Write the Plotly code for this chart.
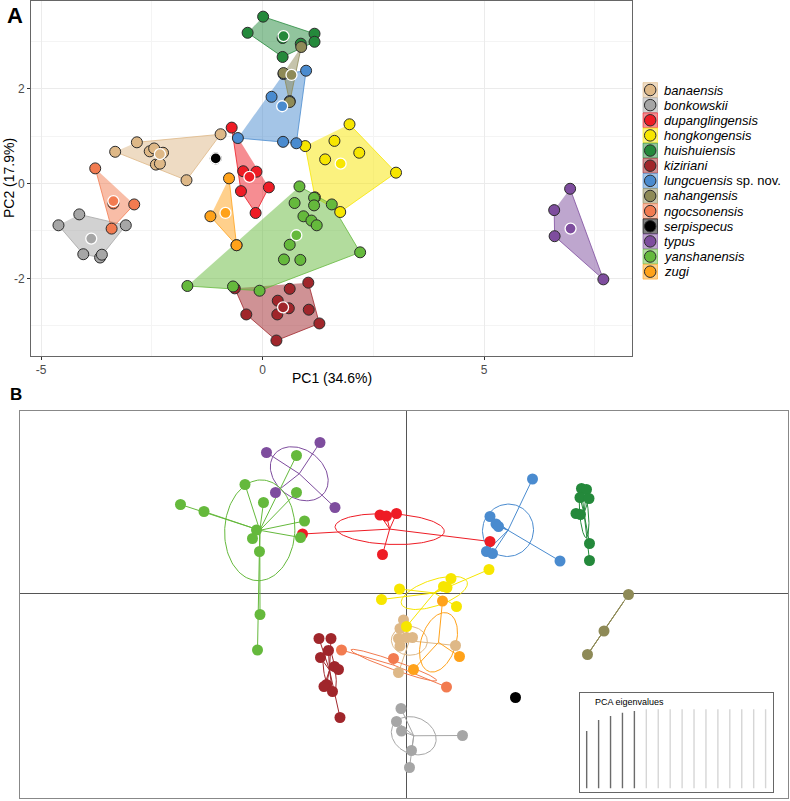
import numpy as np
import plotly.graph_objects as go

species = ["banaensis", "bonkowskii", "dupanglingensis", "hongkongensis", "huishuiensis",
           "kiziriani", "lungcuensis", "nahangensis", "ngocsonensis", "serpispecus",
           "typus", "yanshanensis", "zugi"]
legend_text = ["<i>banaensis</i>", "<i>bonkowskii</i>", "<i>dupanglingensis</i>", "<i>hongkongensis</i>",
               "<i>huishuiensis</i>", "<i>kiziriani</i>", "<i>lungcuensis</i> sp. nov.", "<i>nahangensis</i>",
               "<i>ngocsonensis</i>", "<i>serpispecus</i>", "<i>typus</i>", "<i>yanshanensis</i>", "<i>zugi</i>"]
colors = ["#DEB887", "#A6A6A6", "#EE1C25", "#F7E600", "#24893B", "#A0262B", "#4A8BCF",
          "#8E8A57", "#F27B50", "#000000", "#7E4D9E", "#65B93C", "#FFA21A"]

# panel A - PCA scores (PC1, PC2)
pca_x = {
    "banaensis": [-3.33, -2.84, -2.55, -2.45, -2.25, -2.41, -2.32, -0.95, -1.72],
    "bonkowskii": [-4.14, -4.61, -3.09, -4.05, -3.67, -3.63],
    "dupanglingensis": [-0.70, -0.44, -0.14, -0.49, 0.14, -0.16],
    "hongkongensis": [0.96, 1.96, 1.62, 2.18, 1.41, 3.01, 1.75, 1.18],
    "huishuiensis": [0.01, -0.34, 1.17, 1.17, 0.86, 0.45, 0.45],
    "kiziriani": [1.03, 0.61, 0.34, 0.59, 1.04, -0.37, 0.33, 1.28, 0.31, -0.63],
    "lungcuensis": [0.98, 0.47, 0.20, -0.56, 0.46, 0.76, 0.61],
    "nahangensis": [0.87, 0.47, 0.61],
    "ngocsonensis": [-3.78, -3.37, -2.90, -3.41],
    "serpispecus": [-1.06],
    "typus": [6.94, 6.58, 6.59, 7.69],
    "yanshanensis": [0.83, 0.72, 1.16, 1.16, 1.56, 0.92, 1.10, 1.22, 0.61, 0.48, 0.85, 2.20,
                     -0.59, -1.70, -0.67, -0.07],
    "zugi": [-0.76, -1.18, -0.59],
}
pca_y = {
    "banaensis": [0.67, 0.87, 0.68, 0.74, 0.65, 0.40, 0.42, 1.04, 0.07],
    "bonkowskii": [-0.65, -0.88, -0.88, -1.49, -1.56, -1.50],
    "dupanglingensis": [1.18, 0.26, 0.25, -0.16, -0.08, -0.62],
    "hongkongensis": [0.79, 1.25, 0.90, 0.65, 0.51, 0.23, -0.60, -0.29],
    "huishuiensis": [3.52, 3.18, 3.16, 2.99, 2.95, 2.67, 3.07],
    "kiziriani": [-2.09, -2.22, -2.47, -2.63, -2.66, -2.76, -2.76, -2.95, -3.31, -2.21],
    "lungcuensis": [2.38, 2.31, 1.83, 0.96, 0.88, 0.85, 1.74],
    "nahangensis": [2.88, 2.33, 1.72],
    "ngocsonensis": [0.32, -0.42, -0.44, -0.95],
    "serpispecus": [0.53],
    "typus": [-0.11, -0.56, -1.11, -2.02],
    "yanshanensis": [-0.06, -0.41, -0.30, -0.46, -0.44, -0.69, -0.78, -0.88, -1.29, -1.60, -1.61,
                     -1.45, -1.30, -2.16, -2.17, -2.26],
    "zugi": [0.11, -0.69, -1.30],
}
cent_x = [-2.32, -3.87, -0.30, 1.76, 0.47, 0.46, 0.44, 0.65, -3.37, -1.06, 6.95, 0.76, -0.84]
cent_y = [0.62, -1.16, 0.14, 0.42, 3.11, -2.61, 1.63, 2.29, -0.37, 0.53, -0.95, -1.09, -0.62]

# panel B - s.class scores
cls_x = {
    "banaensis": [-0.05, -0.12, -0.15, 0.01, 0.13, -0.12, 0.99, -0.15],
    "bonkowskii": [-0.10, -0.19, -0.09, 0.11, 0.07, 1.13],
    "dupanglingensis": [-0.52, -0.39, -0.19, -0.47, -2.07, 1.68],
    "hongkongensis": [1.66, 0.90, 0.75, 0.82, -0.13, 1.01, 0.01, -0.49],
    "huishuiensis": [3.51, 3.61, 3.48, 3.66, 3.40, 3.49, 3.67, 3.67],
    "kiziriani": [-1.74, -1.50, -1.55, -1.71, -1.43, -1.35, -1.59, -1.64, -1.47, -1.32],
    "lungcuensis": [2.53, 1.68, 1.80, 1.85, 1.61, 1.73, 3.08],
    "nahangensis": [4.45, 3.96, 3.63],
    "ngocsonensis": [-1.29, -0.25, 0.81],
    "serpispecus": [2.19],
    "typus": [-2.79, -1.72, -2.61, -1.42],
    "yanshanensis": [-4.51, -4.04, -3.22, -2.19, -2.85, -2.19, -2.03, -2.99, -3.07, -2.11, -2.93,
                     -2.92, -2.97],
    "zugi": [0.73, 1.07, 0.15],
}
cls_y = {
    "banaensis": [-0.54, -0.71, -0.91, -0.89, -0.89, -1.06, -1.05, -1.59],
    "bonkowskii": [-2.31, -2.57, -2.76, -3.15, -3.49, -2.85],
    "dupanglingensis": [1.56, 1.54, 1.59, 0.77, 1.18, 1.03],
    "hongkongensis": [0.47, 0.29, 0.13, 0.11, 0.08, -0.27, -0.67, -0.13],
    "huishuiensis": [2.09, 2.07, 1.91, 1.89, 1.59, 1.57, 0.99, 0.65],
    "kiziriani": [-0.91, -0.91, -1.15, -1.29, -1.47, -1.53, -1.83, -1.87, -1.97, -2.49],
    "lungcuensis": [2.28, 1.53, 1.38, 1.33, 0.83, 0.79, 0.64],
    "nahangensis": [-0.03, -0.76, -1.23],
    "ngocsonensis": [-1.14, -1.31, -1.88],
    "serpispecus": [-2.09],
    "typus": [2.81, 3.01, 2.01, 1.71],
    "yanshanensis": [1.77, 1.63, 2.17, 2.75, 1.81, 2.01, 1.44, 1.26, 1.09, 1.11, 0.83, -0.43, -1.14],
    "zugi": [-0.16, -1.27, -1.53],
}
eigenvalues = [57.3, 68.3, 72.3, 75.6, 77.3, 79, 79, 79, 79, 79, 79, 79, 79, 79, 79, 79]
n_kept = 5

W, H = 790, 801
FONT = "Liberation Sans, Arial, sans-serif"


def rgba(hexc, a):
    h = hexc.lstrip("#")
    return "rgba(%d,%d,%d,%s)" % (int(h[0:2], 16), int(h[2:4], 16), int(h[4:6], 16), a)


def hull(xs, ys):
    pts = sorted(set(zip(xs, ys)))
    if len(pts) < 3:
        return pts

    def cross(o, a, b):
        return (a[0] - o[0]) * (b[1] - o[1]) - (a[1] - o[1]) * (b[0] - o[0])
    lower, upper = [], []
    for p in pts:
        while len(lower) >= 2 and cross(lower[-2], lower[-1], p) <= 0:
            lower.pop()
        lower.append(p)
    for p in reversed(pts):
        while len(upper) >= 2 and cross(upper[-2], upper[-1], p) <= 0:
            upper.pop()
        upper.append(p)
    return lower[:-1] + upper[:-1]


fig = go.Figure()

# ---- panel A ----
for sp, col in zip(species, colors):
    h = hull(pca_x[sp], pca_y[sp])
    if len(h) < 3:
        continue
    fig.add_trace(go.Scatter(x=[p[0] for p in h], y=[p[1] for p in h], fill="toself",
                             fillcolor=rgba(col, 0.5), mode="lines",
                             line=dict(color=col, width=0.8), hoverinfo="skip",
                             xaxis="x", yaxis="y"))
for sp, col in zip(species, colors):
    fig.add_trace(go.Scatter(x=pca_x[sp], y=pca_y[sp], mode="markers",
                             marker=dict(size=11, color=col, line=dict(color="#2b2b2b", width=1)),
                             name=sp, xaxis="x", yaxis="y"))
fig.add_trace(go.Scatter(x=cent_x, y=cent_y, mode="markers",
                         marker=dict(size=11, color=colors, line=dict(color="white", width=1.3)),
                         xaxis="x", yaxis="y"))

# ---- panel B ----
for sp, col in zip(species, colors):
    xs, ys = np.array(cls_x[sp]), np.array(cls_y[sp])
    if len(xs) < 2:
        continue
    mx, my = xs.mean(), ys.mean()
    sx, sy = [], []
    for a, b in zip(xs, ys):
        sx += [a, mx, None]
        sy += [b, my, None]
    fig.add_trace(go.Scatter(x=sx, y=sy, mode="lines", line=dict(color=col, width=1),
                             hoverinfo="skip", xaxis="x2", yaxis="y2"))
    cov = np.cov(xs, ys, bias=True)
    vals, vecs = np.linalg.eigh(cov)
    vals = np.clip(vals, 0, None)
    t = np.linspace(0, 2 * np.pi, 120)
    circ = np.vstack([np.cos(t), np.sin(t)])
    e = vecs @ np.diag(np.sqrt(vals)) @ circ
    fig.add_trace(go.Scatter(x=mx + e[0], y=my + e[1], mode="lines", line=dict(color=col, width=1),
                             hoverinfo="skip", xaxis="x2", yaxis="y2"))
for sp, col in zip(species, colors):
    fig.add_trace(go.Scatter(x=cls_x[sp], y=cls_y[sp], mode="markers",
                             marker=dict(size=11, color=col), name=sp, xaxis="x2", yaxis="y2"))

# eigenvalue inset
for i, ev in enumerate(eigenvalues):
    fig.add_trace(go.Scatter(x=[i, i], y=[0, ev], mode="lines",
                             line=dict(color="#6b6b6b" if i < n_kept else "#d6d6d6", width=1.4),
                             hoverinfo="skip", xaxis="x4", yaxis="y4"))

# ---- legend (drawn by hand, ggplot style keys) ----
shapes = []
annotations = []
leg_y = [90 + i * 15.14 for i in range(len(species))]
for yc, col, lab in zip(leg_y, colors, legend_text):
    shapes.append(dict(type="rect", xref="x3", yref="y3", x0=643, x1=657.5, y0=yc - 7.4, y1=yc + 7.4,
                       fillcolor=rgba(col, 0.5), line=dict(color=col, width=0.6), layer="below"))
    annotations.append(dict(xref="x3", yref="y3", x=662, y=yc, text=lab, showarrow=False,
                            xanchor="left", yanchor="middle",
                            font=dict(size=13, color="black", family=FONT)))
fig.add_trace(go.Scatter(x=[650.2] * len(species), y=leg_y, mode="markers",
                         marker=dict(size=11.5, color=colors, line=dict(color="#2b2b2b", width=1)),
                         xaxis="x3", yaxis="y3", hoverinfo="skip"))

annotations += [
    dict(xref="paper", yref="paper", x=14.5 / W, y=1 - 15 / H, text="<b>A</b>", showarrow=False,
         xanchor="center", yanchor="middle", font=dict(size=22, color="black", family=FONT)),
    dict(xref="paper", yref="paper", x=15.5 / W, y=1 - 394 / H, text="<b>B</b>", showarrow=False,
         xanchor="center", yanchor="middle", font=dict(size=17, color="black", family=FONT)),
    dict(xref="paper", yref="paper", x=331.7 / W, y=1 - 378 / H, text="PC1 (34.6%)", showarrow=False,
         xanchor="center", yanchor="middle", font=dict(size=14, color="black", family=FONT)),
    dict(xref="paper", yref="paper", x=9 / W, y=1 - 178 / H, text="PC2 (17.9%)", showarrow=False,
         xanchor="center", yanchor="middle", textangle=-90,
         font=dict(size=14, color="black", family=FONT)),
    dict(xref="paper", yref="paper", x=593 / W, y=1 - 702 / H, text="PCA eigenvalues", showarrow=False,
         xanchor="left", yanchor="middle", font=dict(size=9, color="black", family=FONT)),
]

tick_font = dict(size=12, color="#4D4D4D", family=FONT)
fig.update_layout(
    width=W, height=H, margin=dict(l=0, r=0, t=0, b=0),
    paper_bgcolor="white", plot_bgcolor="white", showlegend=False,
    font=dict(family=FONT),
    shapes=shapes, annotations=annotations,
    xaxis=dict(domain=[31 / W, 631.7 / W], range=[-5.23, 8.33], tickvals=[-5, 0, 5],
               ticktext=["-5", "0", "5"], showgrid=True, gridcolor="#EBEBEB", gridwidth=1,
               minor=dict(tickvals=[-2.5, 2.5, 7.5], showgrid=True, gridcolor="#F4F4F4", gridwidth=0.6),
               zeroline=False, showline=True, mirror=True, linecolor="#666", linewidth=1,
               ticks="outside", ticklen=3, tickcolor="#333", tickfont=tick_font, anchor="y"),
    yaxis=dict(domain=[1 - 355.7 / H, 1 - 1 / H], range=[-3.63, 3.85], tickvals=[-2, 0, 2],
               ticktext=["-2", "0", "2"], showgrid=True, gridcolor="#EBEBEB", gridwidth=1,
               minor=dict(tickvals=[-3, -1, 1, 3], showgrid=True, gridcolor="#F4F4F4", gridwidth=0.6),
               zeroline=False, showline=True, mirror=True, linecolor="#666", linewidth=1,
               ticks="outside", ticklen=3, tickcolor="#333", tickfont=tick_font, anchor="x"),
    xaxis2=dict(domain=[20 / W, 788 / W], range=[-7.72, 7.64], showgrid=False, showticklabels=False,
                zeroline=True, zerolinecolor="#555", zerolinewidth=1,
                showline=True, mirror=True, linecolor="#888", linewidth=1, anchor="y2"),
    yaxis2=dict(domain=[1 - 798 / H, 1 - 410.7 / H], range=[-4.10, 3.646], showgrid=False,
                showticklabels=False, zeroline=True, zerolinecolor="#555", zerolinewidth=1,
                showline=True, mirror=True, linecolor="#888", linewidth=1, anchor="x2"),
    xaxis3=dict(domain=[636 / W, 1], range=[636, 790], visible=False, anchor="y3"),
    yaxis3=dict(domain=[1 - 285 / H, 1 - 78 / H], range=[285, 78], visible=False, anchor="x3"),
    xaxis4=dict(domain=[580 / W, 773 / W], range=[-0.56, 15.62], showgrid=False, zeroline=False,
                showticklabels=False, showline=True, mirror=True, linecolor="#666", linewidth=1,
                anchor="y4"),
    yaxis4=dict(domain=[1 - 792.3 / H, 1 - 693.3 / H], range=[-4, 95], showgrid=False, zeroline=False,
                showticklabels=False, showline=True, mirror=True, linecolor="#666", linewidth=1,
                anchor="x4"),
)

# page body has a default margin; remove it so the figure fills the window exactly
fig.write_html("out.html", config={"displayModeBar": False},
               post_script="document.body.style.margin='0';")
